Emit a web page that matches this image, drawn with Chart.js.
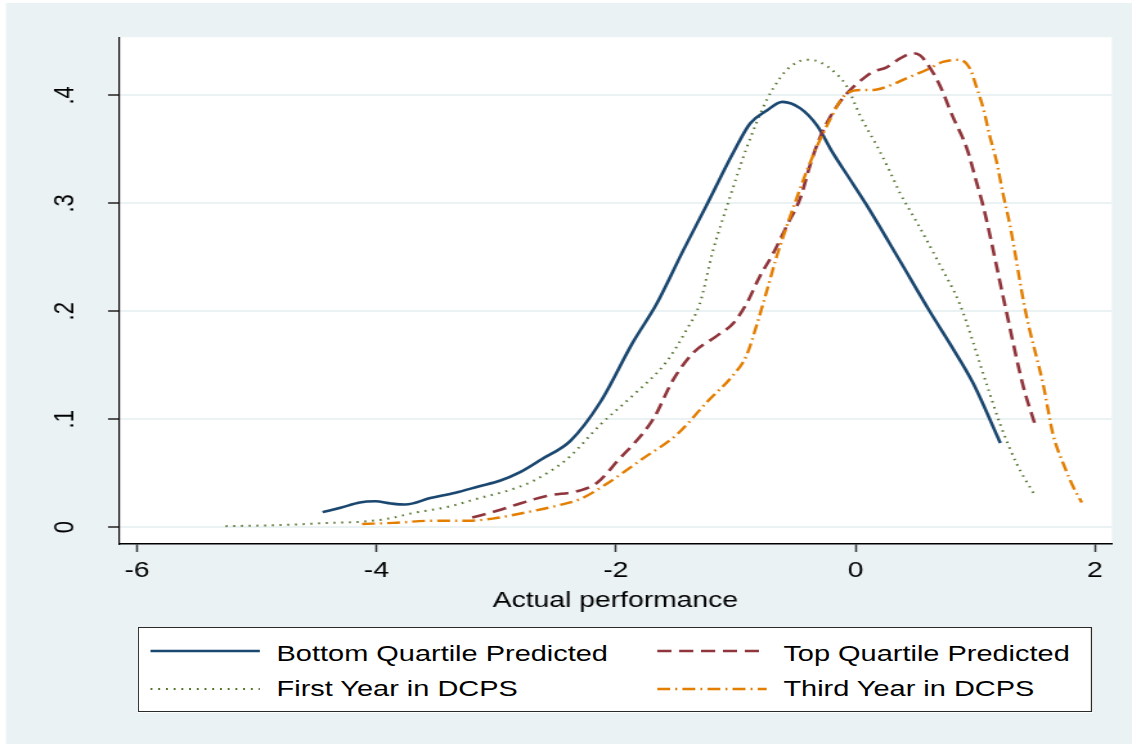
<!DOCTYPE html>
<html>
<head>
<meta charset="utf-8">
<script src="https://cdn.jsdelivr.net/npm/chart.js@4/dist/chart.umd.min.js"></script>
<style>
    html, body { margin: 0; padding: 0; background: #ffffff; }
    #wrap {
        position: absolute; left: 0; top: 0;
        width: 880px; height: 744px;
        transform: scaleX(1.28636); transform-origin: 0 0;
    }
    #chart { position: absolute; left: 0; top: 0; }
    #legend {
        position: absolute; left: 107px; top: 627px;
        width: 742px; height: 85px; box-sizing: border-box;
        border: 1.5px solid #2b2b2b; background: #ffffff;
        font-family: "Liberation Sans", Arial, sans-serif; font-size: 22.5px; color: #000;
    }
    #legend .txt { position: absolute; line-height: 1; white-space: nowrap; }
    #legend svg { position: absolute; overflow: visible; }
</style>
</head>
<body>
<div id="wrap">
    <canvas id="chart" width="880" height="744"></canvas>
    <div id="legend"></div>
</div>
<script>
// horizontal stretch of the original picture
const STRETCH = 1.28636;

const seriesLabels = ['Bottom Quartile Predicted', 'Top Quartile Predicted', 'First Year in DCPS', 'Third Year in DCPS'];
const xTicks = [-6, -4, -2, 0, 2];
const yTicks = [0, 0.1, 0.2, 0.3, 0.4];

// Bottom Quartile Predicted
const bottomX = [-4.45, -4.30, -4.14, -4.01, -3.88, -3.76, -3.55, -3.34, -3.14, -2.97, -2.80, -2.62, -2.38, -2.13, -1.86, -1.66, -1.44, -1.24, -1.02, -0.88, -0.74, -0.61, -0.46, -0.32, -0.19, -0.05, 0.09, 0.37, 0.62, 0.80, 0.98, 1.21];
const bottomY = [0.014, 0.018, 0.023, 0.024, 0.022, 0.021, 0.027, 0.032, 0.038, 0.043, 0.051, 0.063, 0.080, 0.116, 0.171, 0.207, 0.256, 0.299, 0.347, 0.374, 0.386, 0.394, 0.388, 0.372, 0.347, 0.323, 0.299, 0.247, 0.200, 0.168, 0.134, 0.078];

// Top Quartile Predicted
const topX = [-3.20, -3.00, -2.80, -2.58, -2.30, -2.16, -1.99, -1.69, -1.52, -1.35, -1.16, -1.02, -0.91, -0.80, -0.69, -0.57, -0.46, -0.38, -0.30, -0.19, -0.07, 0.07, 0.15, 0.26, 0.37, 0.48, 0.54, 0.62, 0.71, 0.81, 0.93, 1.01, 1.07, 1.25, 1.40, 1.50];
const topY = [0.009, 0.015, 0.022, 0.029, 0.034, 0.041, 0.061, 0.100, 0.137, 0.162, 0.177, 0.189, 0.207, 0.232, 0.253, 0.280, 0.305, 0.335, 0.360, 0.384, 0.402, 0.416, 0.422, 0.426, 0.434, 0.439, 0.437, 0.426, 0.408, 0.381, 0.351, 0.320, 0.296, 0.205, 0.131, 0.095];

// First Year in DCPS
const firstX = [-5.26, -4.80, -4.40, -4.14, -3.90, -3.70, -3.40, -3.14, -2.90, -2.69, -2.41, -2.13, -1.86, -1.58, -1.41, -1.30, -1.19, -1.05, -0.91, -0.74, -0.63, -0.55, -0.41, -0.30, -0.16, -0.07, 0.04, 0.18, 0.29, 0.37, 0.51, 0.71, 0.87, 1.10, 1.21, 1.35, 1.49];
const firstY = [0.001, 0.002, 0.004, 0.005, 0.008, 0.013, 0.019, 0.027, 0.034, 0.043, 0.063, 0.095, 0.122, 0.153, 0.183, 0.207, 0.256, 0.305, 0.351, 0.396, 0.416, 0.426, 0.433, 0.431, 0.420, 0.408, 0.381, 0.353, 0.329, 0.310, 0.283, 0.242, 0.207, 0.131, 0.095, 0.058, 0.031];

// Third Year in DCPS
const thirdX = [-4.12, -3.86, -3.53, -3.24, -3.03, -2.74, -2.49, -2.30, -2.08, -1.77, -1.49, -1.24, -1.02, -0.91, -0.82, -0.74, -0.66, -0.57, -0.49, -0.41, -0.32, -0.21, -0.10, 0.04, 0.15, 0.26, 0.43, 0.60, 0.73, 0.87, 0.96, 1.01, 1.07, 1.12, 1.18, 1.23, 1.29, 1.42, 1.57, 1.65, 1.75, 1.82, 1.89];
const thirdY = [0.003, 0.004, 0.006, 0.006, 0.008, 0.014, 0.020, 0.026, 0.040, 0.064, 0.086, 0.116, 0.141, 0.159, 0.189, 0.219, 0.250, 0.280, 0.305, 0.329, 0.353, 0.378, 0.399, 0.405, 0.405, 0.408, 0.416, 0.424, 0.431, 0.433, 0.424, 0.408, 0.387, 0.363, 0.338, 0.310, 0.280, 0.200, 0.131, 0.086, 0.055, 0.037, 0.023];

const FONT = '"Liberation Sans", Arial, sans-serif';
const BG = '#eaf2f3';

function toPoints(xs, ys) {
    return xs.map((x, i) => ({ x: x, y: ys[i] }));
}

const styles = [
    { color: '#1a476f', width: 2.6, dash: [] },
    { color: '#90353b', width: 2.6, dash: [11, 6] },
    { color: '#55752f', width: 2, dash: [1.5, 4.5] },
    { color: '#e37e00', width: 2.4, dash: [10, 4, 1.5, 4] }
];
const seriesData = [toPoints(bottomX, bottomY), toPoints(topX, topY), toPoints(firstX, firstY), toPoints(thirdX, thirdY)];

const datasets = seriesLabels.map((label, i) => ({
    label: label,
    data: seriesData[i],
    borderColor: styles[i].color,
    borderWidth: styles[i].width,
    borderDash: styles[i].dash,
    pointRadius: 0,
    fill: false,
    cubicInterpolationMode: 'monotone'
}));
// draw order as in the original: green first, blue, maroon, orange on top
const order = [2, 0, 1, 3];
datasets.forEach((d, i) => { d.order = 10 - order.indexOf(i); });

// light page background + white plot region
const backgroundPlugin = {
    id: 'stataBackground',
    beforeDraw(chart) {
        const ctx = chart.ctx;
        const area = chart.chartArea;
        ctx.save();
        ctx.fillStyle = BG;
        ctx.fillRect(6 / STRETCH, 3, chart.width, chart.height);
        ctx.fillStyle = '#ffffff';
        ctx.fillRect(area.left, area.top, area.right - area.left, area.bottom - area.top);
        ctx.restore();
    }
};

new Chart(document.getElementById('chart'), {
    type: 'line',
    data: { datasets: datasets },
    plugins: [backgroundPlugin],
    options: {
        responsive: false,
        animation: false,
        layout: { padding: { left: 0, top: 30, right: 15.6, bottom: 130 } },
        plugins: { legend: { display: false }, tooltip: { enabled: false } },
        scales: {
            x: {
                type: 'linear',
                min: -6.15,
                max: 2.142,
                afterFit(scale) { scale.height = 70; },
                afterBuildTicks(scale) { scale.ticks = xTicks.map(v => ({ value: v })); },
                ticks: {
                    includeBounds: false,
                    color: '#000',
                    padding: 6,
                    maxRotation: 0,
                    font: { family: FONT, size: 22 },
                    callback: v => String(v)
                },
                grid: { drawOnChartArea: false, drawTicks: true, tickLength: 8, tickColor: '#333', tickWidth: 1.5 },
                border: { display: true, color: '#000', width: 1.5 },
                title: {
                    display: true,
                    text: 'Actual performance',
                    color: '#000',
                    font: { family: FONT, size: 22 },
                    padding: { top: 0, bottom: 0 }
                }
            },
            y: {
                min: -0.01553,
                max: 0.4539,
                afterFit(scale) { scale.width = 92.5; },
                afterBuildTicks(scale) { scale.ticks = yTicks.map(v => ({ value: v })); },
                ticks: {
                    includeBounds: false,
                    color: '#000',
                    minRotation: 90,
                    maxRotation: 90,
                    crossAlign: 'center',
                    padding: 24,
                    font: { family: FONT, size: 22 },
                    callback: v => (v === 0 ? '0' : v.toFixed(1).replace('0.', '.'))
                },
                grid: { color: BG, lineWidth: 2, drawTicks: true, tickLength: 8.5, tickColor: '#555', tickWidth: 2 },
                border: { display: true, color: '#000', width: 1.2 }
            }
        }
    }
});

// legend box drawn as html, same stretch as the chart
function buildLegend() {
    const box = document.getElementById('legend');
    const slots = [
        { sx: 9, tx: 107, row: 0 },
        { sx: 403, tx: 501, row: 0 },
        { sx: 9, tx: 107, row: 1 },
        { sx: 403, tx: 501, row: 1 }
    ];
    const lineY = [23.2, 60.5];
    const textY = [15.2, 49.5];
    seriesLabels.forEach((label, i) => {
        const s = slots[i];
        const st = styles[i];
        const svg = document.createElementNS('http://www.w3.org/2000/svg', 'svg');
        svg.setAttribute('width', '85');
        svg.setAttribute('height', '6');
        svg.style.left = s.sx + 'px';
        svg.style.top = (lineY[s.row] - 3) + 'px';
        const ln = document.createElementNS('http://www.w3.org/2000/svg', 'line');
        ln.setAttribute('x1', '0'); ln.setAttribute('x2', '85');
        ln.setAttribute('y1', '3'); ln.setAttribute('y2', '3');
        ln.setAttribute('stroke', st.color);
        ln.setAttribute('stroke-width', st.width);
        if (st.dash.length) ln.setAttribute('stroke-dasharray', st.dash.join(' '));
        svg.appendChild(ln);
        box.appendChild(svg);

        const t = document.createElement('div');
        t.className = 'txt';
        t.textContent = label;
        t.style.left = s.tx + 'px';
        t.style.top = textY[s.row] + 'px';
        box.appendChild(t);
    });
}
buildLegend();
</script>
</body>
</html>
